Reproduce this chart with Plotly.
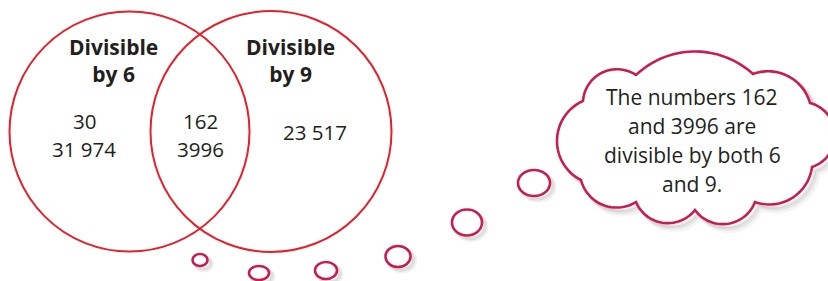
import numpy as np
import plotly.graph_objects as go

# ---- data (text content of the diagram) ----
left_title = ["Divisible", "by 6"]
right_title = ["Divisible", "by 9"]
only_6 = ["30", "31 974"]
both_6_9 = ["162", "3996"]
only_9 = ["23 517"]
thought = ["The numbers 162", "and 3996 are", "divisible by both 6", "and 9."]

W, H = 828, 281
TXT = "#231f20"
VENN_RED = "#e4202a"
CLOUD_RED = "#c81d50"
FONT = "Open Sans"

fig = go.Figure()
shapes = []
annots = []

# ---- Venn circles ----
for cx, cy, r in [(129.5, 131.5, 120), (271, 131.5, 120.5)]:
    shapes.append(dict(type="circle", xref="x", yref="y", x0=cx - r, x1=cx + r,
                       y0=cy - r, y1=cy + r, line=dict(color=VENN_RED, width=2),
                       fillcolor="rgba(0,0,0,0)"))

# ---- thought bubbles (small ellipses) ----
bubbles = [(200, 260, 7.5, 6), (259, 273, 10, 7), (326, 270.5, 11, 8.5),
           (398, 256.5, 12.5, 10.5), (467, 222.5, 15, 13), (534, 183, 16, 13)]
for cx, cy, rx, ry in bubbles:
    for off, w, op in [(4, 5, 0.07), (3, 3.5, 0.10)]:
        shapes.append(dict(type="circle", xref="x", yref="y", x0=cx - rx + off, x1=cx + rx + off,
                           y0=cy - ry + off, y1=cy + ry + off,
                           line=dict(color=f"rgba(60,60,60,{op})", width=w),
                           fillcolor="rgba(0,0,0,0)"))
for cx, cy, rx, ry in bubbles:
    shapes.append(dict(type="circle", xref="x", yref="y", x0=cx - rx, x1=cx + rx,
                       y0=cy - ry, y1=cy + ry, line=dict(color=CLOUD_RED, width=2.6),
                       fillcolor="white"))

# ---- cloud outline built from circular arcs between cusps ----
cusps = [(583, 101), (636, 75), (753, 74), (810, 103), (812, 167),
         (755, 202), (695, 210), (636, 202), (581, 180)]
sagittas = [17, 23, 14, 24, 16, 18, 17, 15, 25]


def arc_pts(A, B, s, npts=36):
    A = np.array(A, float)
    B = np.array(B, float)
    d = B - A
    c = np.hypot(d[0], d[1])
    n = np.array([d[1], -d[0]]) / c
    M = (A + B) / 2
    R = (c * c / 4 + s * s) / (2 * s)
    C = M - n * (R - s)
    apex = M + n * s
    a0 = np.arctan2(A[1] - C[1], A[0] - C[0])
    ap = np.arctan2(apex[1] - C[1], apex[0] - C[0])
    half = (ap - a0 + np.pi) % (2 * np.pi) - np.pi
    t = np.linspace(0, 1, npts)
    ang = a0 + 2 * half * t
    return C[0] + R * np.cos(ang), C[1] + R * np.sin(ang)


def cloud_path(dx=0.0, dy=0.0):
    xs, ys = [], []
    for i in range(len(cusps)):
        A = cusps[i]
        B = cusps[(i + 1) % len(cusps)]
        x, y = arc_pts(A, B, sagittas[i])
        xs.extend(x)
        ys.extend(y)
    pts = [f"{x + dx:.2f},{y + dy:.2f}" for x, y in zip(xs, ys)]
    return "M " + " L ".join(pts) + " Z"


for off, w, op in [(6, 6, 0.05), (4.5, 4, 0.08), (3, 3, 0.10)]:
    shapes.append(dict(type="path", xref="x", yref="y", path=cloud_path(off, off),
                       line=dict(color=f"rgba(60,60,60,{op})", width=w),
                       fillcolor="rgba(0,0,0,0)"))
shapes.append(dict(type="path", xref="x", yref="y", path=cloud_path(),
                   line=dict(color=CLOUD_RED, width=2.6), fillcolor="white"))


# ---- text ----
def add_lines(lines, x, baselines, size, bold=False):
    for txt, b in zip(lines, baselines):
        annots.append(dict(x=x, y=b - 0.38 * size, xref="x", yref="y", text=f"<b>{txt}</b>" if bold else txt,
                           showarrow=False, xanchor="center", yanchor="middle",
                           font=dict(family=FONT, size=size, color=TXT)))


def add_block(lines, x, ymid, size, bold=False):
    txt = "<br>".join(f"<b>{t}</b>" if bold else t for t in lines)
    annots.append(dict(x=x, y=ymid, xref="x", yref="y", text=txt, showarrow=False,
                       xanchor="center", yanchor="middle", align="center",
                       font=dict(family=FONT, size=size, color=TXT)))


add_block(left_title, 113, 60, 21, bold=True)
add_block(right_title, 290, 60, 21, bold=True)
add_lines(only_6, 84, [129, 157], 20.5)
add_lines(both_6_9, 200, [129, 157], 20.5)
add_lines(only_9, 315, [140], 20.5)
add_lines(thought, 692, [105, 134, 163, 192], 21)

fig.update_layout(
    width=W, height=H, margin=dict(l=0, r=0, t=0, b=0),
    paper_bgcolor="white", plot_bgcolor="white",
    xaxis=dict(range=[0, W], visible=False, fixedrange=True),
    yaxis=dict(range=[H, 0], visible=False, fixedrange=True),
    shapes=shapes, annotations=annots, showlegend=False,
)
fig.write_html("out.html", config={"displayModeBar": False},
               post_script="document.body.style.margin='0';document.body.style.overflow='hidden';")
